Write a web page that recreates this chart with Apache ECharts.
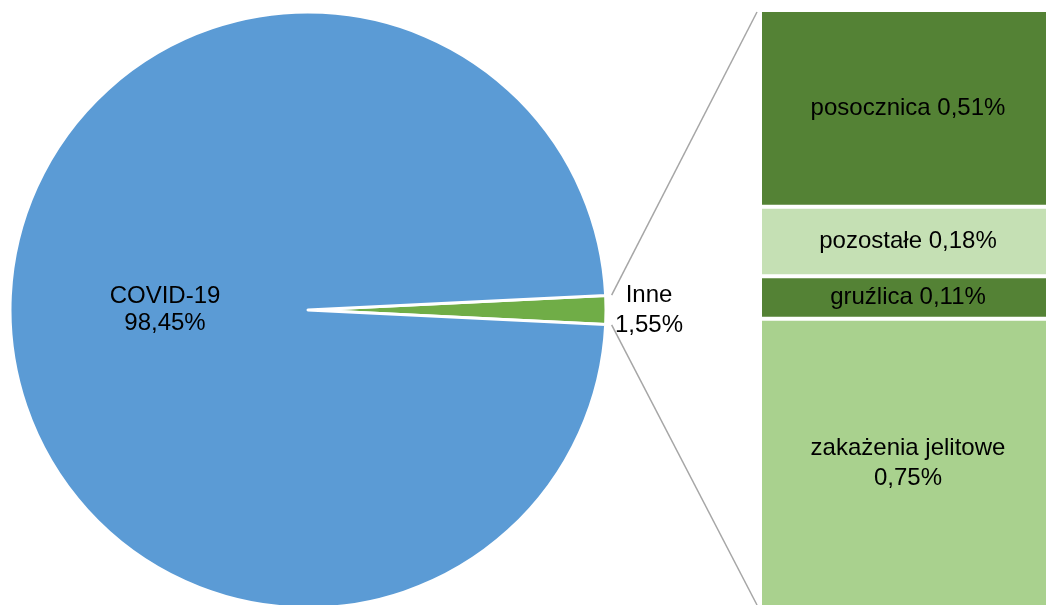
<!DOCTYPE html>
<html><head><meta charset="utf-8">
<script src="https://cdn.jsdelivr.net/npm/echarts@6/dist/echarts.min.js"></script>
<style>html,body{margin:0;padding:0;background:#fff;overflow:hidden;width:1046px;height:605px}#c{width:1056px;height:608px}</style>
</head><body><div id="c"></div>
<script>
// Pie data
const pieNames = ['Inne', 'COVID-19'];
const pieValues = [1.55, 98.45];
// Breakdown bar of "Inne" (bottom to top)
const barNames = ['zakażenia jelitowe', 'gruźlica', 'pozostałe', 'posocznica'];
const barValues = [0.75, 0.11, 0.18, 0.51];

const pieColors = ['#70AD47', '#5B9BD5'];
const barColors = ['#A9D18E', '#548235', '#C5E0B4', '#548235'];
const FONT = 'Liberation Sans, Arial, sans-serif';
const FS = 24;
const fmt = v => String(v.toFixed(2)).replace('.', ',');

// measure text to decide whether a bar label needs to wrap before its value
const ctx = document.createElement('canvas').getContext('2d');
ctx.font = FS + 'px ' + FONT;
const barLabel = (n, v) => {
  const one = n + ' ' + fmt(v) + '%';
  return ctx.measureText(one).width > 240 ? n + '\n' + fmt(v) + '%' : one;
};

const chart = echarts.init(document.getElementById('c'));
const total = barValues.reduce((a, b) => a + b, 0);
const cx = 308, cy = 310, R = 298;
const half = pieValues[0] / 100 * 360 / 2;

const option = {
  animation: false,
  grid: { left: 760, right: 0, top: 10, bottom: 0 },
  xAxis: { type: 'category', data: ['Inne'], show: false },
  yAxis: { type: 'value', min: 0, max: total, show: false },
  series: [
    {
      type: 'pie', center: [cx, cy], radius: R, startAngle: half, clockwise: true,
      avoidLabelOverlap: false,
      itemStyle: { borderColor: '#fff', borderWidth: 3 },
      labelLine: { show: false, length: 4, length2: 0 },
      data: pieNames.map((n, i) => ({
        name: n, value: pieValues[i], itemStyle: { color: pieColors[i] },
        label: i === 0 ? {
          show: true, position: 'outside',
          formatter: '{a|' + n + '}\n{a|' + fmt(pieValues[i]) + '%}',
          rich: { a: { width: 68, align: 'center', fontSize: FS, lineHeight: 30, fontFamily: FONT, color: '#000' } }
        } : {
          show: true, position: 'inside', offset: [9, 0],
          formatter: n + '\n' + fmt(pieValues[i]) + '%',
          fontSize: FS, lineHeight: 27, fontFamily: FONT, color: '#000', align: 'center'
        }
      }))
    },
    ...barNames.map((n, i) => ({
      type: 'bar', name: n, stack: 'inne', barWidth: '100%',
      data: [barValues[i]],
      itemStyle: { color: barColors[i], borderColor: '#fff', borderWidth: 2 },
      label: {
        show: true, position: 'inside',
        formatter: barLabel(n, barValues[i]),
        align: 'center',
        fontSize: FS, lineHeight: 30, fontFamily: FONT, color: '#000'
      }
    }))
  ]
};
chart.setOption(option);

// Connector lines from the "Inne" slice to the breakdown bar
const topPt = chart.convertToPixel({ gridIndex: 0 }, ['Inne', total]);
const barLeft = 757;
const a = half * Math.PI / 180;
const r2 = R + 6;
const lineStyle = { stroke: '#A6A6A6', lineWidth: 1.5 };
chart.setOption({
  graphic: [
    { type: 'line', shape: { x1: cx + r2 * Math.cos(a), y1: cy - r2 * Math.sin(a), x2: barLeft, y2: topPt[1] + 2 }, style: lineStyle },
    { type: 'line', shape: { x1: cx + r2 * Math.cos(a), y1: cy + r2 * Math.sin(a), x2: barLeft, y2: 605 }, style: lineStyle }
  ]
});
</script></body></html>
